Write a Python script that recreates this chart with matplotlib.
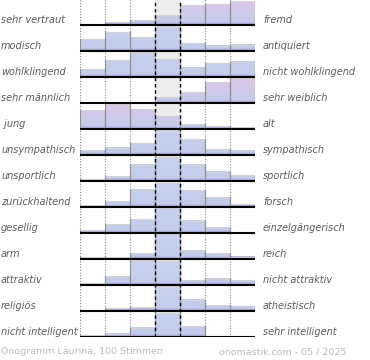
import numpy as np
import matplotlib
matplotlib.use("Agg")
import matplotlib.pyplot as plt

left_labels = ["sehr vertraut", "modisch", "wohlklingend", "sehr männlich", " jung",
               "unsympathisch", "unsportlich", "zurückhaltend", "gesellig", "arm",
               "attraktiv", "religiös", "nicht intelligent"]
right_labels = ["fremd", "antiquiert", "nicht wohlklingend", "sehr weiblich", "alt",
                "sympathisch", "sportlich", "forsch", "einzelgängerisch", "reich",
                "nicht attraktiv", "atheistisch", "sehr intelligent"]

# relative bar heights per row (7 scale positions)
votes = [
    [0, 2.7, 4.7, 10, 19.7, 20.7, 24],
    [11.7, 18.7, 13.7, 24.3, 7.7, 5.3, 6.3],
    [7.7, 16.7, 24.3, 18, 9.3, 13.7, 15.3],
    [0, 0, 0, 6, 10.7, 21, 24.7],
    [18.7, 24.7, 19.7, 12.7, 5, 3, 2],
    [5, 7.3, 11.7, 24.3, 15.7, 6, 5],
    [1.7, 5, 16.3, 24, 16.3, 9.3, 6],
    [2, 6, 17.3, 24, 16.7, 10, 3],
    [3, 8.7, 13.7, 25, 12.3, 5.3, 0],
    [1.7, 2, 5.7, 25, 8.3, 6, 2.3],
    [1.7, 8.3, 25, 24, 4.7, 6.3, 5],
    [0, 3, 3.7, 24.3, 11.3, 5.7, 4.3],
    [1.7, 3.3, 9.3, 24, 11, 1, 0],
]
pink_rows = [0, 3, 4]

footer_left = "Onogramm Laurina, 100 Stimmen"
footer_right = "onomastik.com - 05 / 2025"

W, H = 370, 360
fig = plt.figure(figsize=(W / 100, H / 100), dpi=100)
n = len(votes)
ax_top_px, ax_bot_px = -1, 337
ax = fig.add_axes([80 / W, (H - ax_bot_px) / H, 175 / W, (ax_bot_px - ax_top_px) / H])
ax.set_xlim(0, 7)
ax.set_ylim(0, n)
ax.axis("off")

ax.axvspan(3, 4, color="#ececec", zorder=0)

blue = np.array([0.76, 0.80, 0.92])
blue_top = np.array([0.79, 0.82, 0.94])
pink = np.array([0.87, 0.78, 0.91])
dark = np.array([0.58, 0.52, 0.76])
maxv = 26.0

for i, row in enumerate(votes):
    base = n - 1 - i
    for j, v in enumerate(row):
        h = v / maxv
        if h <= 0:
            continue
        ys = np.linspace(0, h, 60)
        top = pink if i in pink_rows else blue_top
        cols = blue[None, :] + (ys[:, None]) * (top - blue)[None, :]
        strip = np.clip(1 - ys / 0.11, 0, 1)[:, None]
        cols = cols * (1 - strip * 0.8) + dark[None, :] * strip * 0.8
        img = np.repeat(cols[:, None, :], 2, axis=1)
        ax.imshow(img, extent=(j, j + 1, base, base + h), origin="lower",
                  aspect="auto", interpolation="bilinear", zorder=2)
        ax.plot([j, j + 1], [base + h, base + h], color="#d2d2d2", lw=0.8, zorder=3)
        ax.plot([j, j], [base, base + h], color="#9a9a9a", lw=0.8, zorder=3)
        ax.plot([j + 1, j + 1], [base, base + h], color="#9a9a9a", lw=0.9, zorder=3)
    ax.plot([0, 7.03], [base, base], color="black", lw=1.5, zorder=5,
            solid_capstyle="butt")
    fig.text(1 / W, 1 - (25 + 26 * i - 5) / H, left_labels[i], ha="left",
             va="center", fontsize=7, style="italic", color="#5c5c5c")
    fig.text(263 / W, 1 - (25 + 26 * i - 5) / H, right_labels[i], ha="left",
             va="center", fontsize=7, style="italic", color="#5c5c5c")

for x in [0, 1, 2, 5, 6, 7]:
    ax.axvline(x, color="#888888", lw=0.8, ls=(0, (1, 1.5)), zorder=4)
for x in [3, 4]:
    ax.axvline(x, color="black", lw=1.0, ls=(0, (2.5, 2)), zorder=4)

ax.set_xlim(0, 7)
ax.set_ylim(0, n)

fig.text(1 / W, 1 - 352 / H, footer_left, ha="left", va="center",
         fontsize=6.8, color="#bbbbbb")
fig.text(346 / W, 1 - 352 / H, footer_right, ha="right", va="center",
         fontsize=6.8, color="#bbbbbb")

fig.savefig("out.png", dpi=100)
